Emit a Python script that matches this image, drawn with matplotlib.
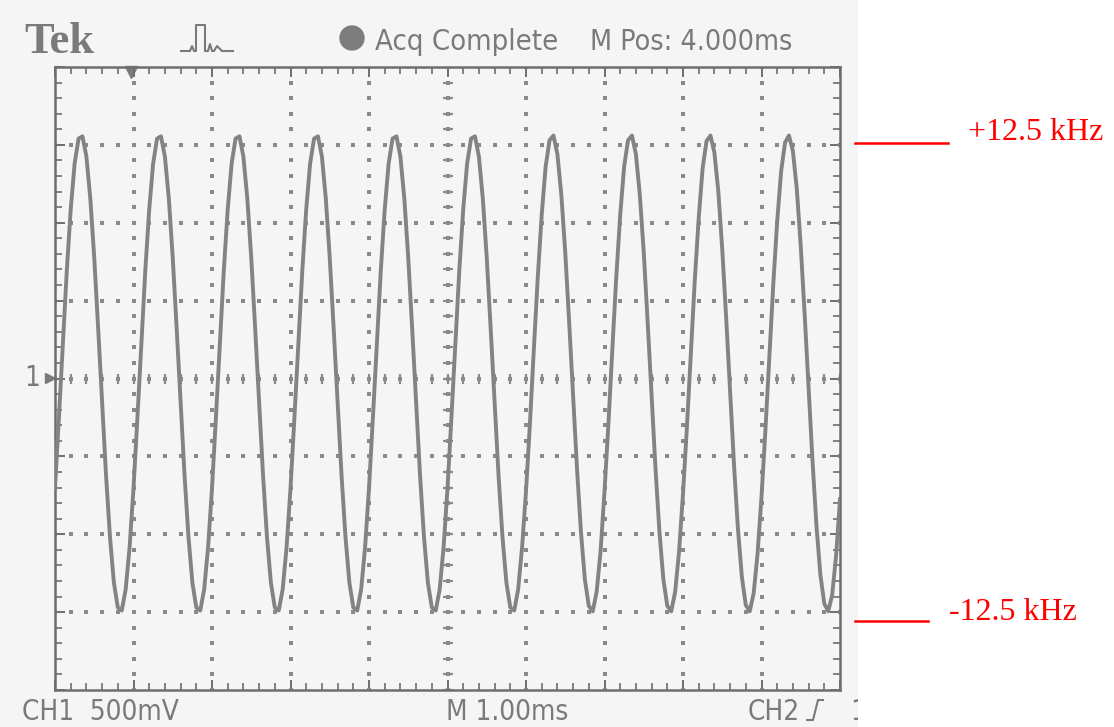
import numpy as np
import matplotlib
matplotlib.use("Agg")
import matplotlib.pyplot as plt
from matplotlib.patches import Circle

# trace: volts in divisions, one sample every 0.05 ms (0.05 div)
t_step = 0.05
trace = [
    -1.41, -0.50, 0.45, 1.38, 2.17, 2.76, 3.08, 3.11, 2.85, 2.31, 1.55, 0.64, -0.31, -1.24, -2.03, -2.62, -2.94, -2.98, -2.71, -2.17,
    -1.41, -0.50, 0.45, 1.38, 2.17, 2.76, 3.08, 3.11, 2.85, 2.31, 1.55, 0.64, -0.31, -1.24, -2.03, -2.62, -2.94, -2.98, -2.71, -2.17,
    -1.41, -0.50, 0.45, 1.38, 2.17, 2.76, 3.08, 3.11, 2.85, 2.31, 1.55, 0.64, -0.31, -1.24, -2.03, -2.62, -2.94, -2.98, -2.71, -2.17,
    -1.41, -0.50, 0.45, 1.38, 2.17, 2.76, 3.08, 3.11, 2.85, 2.31, 1.55, 0.64, -0.31, -1.24, -2.03, -2.62, -2.94, -2.98, -2.71, -2.17,
    -1.41, -0.50, 0.45, 1.38, 2.17, 2.76, 3.08, 3.11, 2.85, 2.31, 1.55, 0.64, -0.31, -1.24, -2.03, -2.62, -2.94, -2.98, -2.71, -2.17,
    -1.41, -0.50, 0.45, 1.38, 2.17, 2.76, 3.08, 3.11, 2.85, 2.31, 1.55, 0.64, -0.31, -1.24, -2.03, -2.62, -2.94, -2.98, -2.71, -2.17,
    -1.45, -0.58, 0.38, 1.30, 2.10, 2.72, 3.06, 3.12, 2.88, 2.36, 1.62, 0.72, -0.22, -1.16, -1.97, -2.58, -2.92, -2.99, -2.74, -2.22,
    -1.45, -0.58, 0.38, 1.30, 2.10, 2.72, 3.06, 3.12, 2.88, 2.36, 1.62, 0.72, -0.22, -1.16, -1.97, -2.58, -2.92, -2.99, -2.74, -2.22,
    -1.48, -0.62, 0.33, 1.26, 2.06, 2.70, 3.05, 3.12, 2.90, 2.40, 1.66, 0.78, -0.17, -1.11, -1.93, -2.55, -2.91, -2.99, -2.76, -2.25,
    -1.52, -0.66, 0.28, 1.21, 2.02, 2.66, 3.03, 3.12, 2.92, 2.43, 1.70, 0.82, -0.12, -1.06, -1.89, -2.52, -2.89, -2.99, -2.78, -2.28,
    -1.55,
]

header_left = "Tek"
status_text = "Acq Complete"
mpos_text = "M Pos: 4.000ms"
ch1_text = "CH1  500mV"
time_text = "M 1.00ms"
ch2_text = "CH2"
upper_label = "+12.5 kHz"
lower_label = "-12.5 kHz"

scope_grey = "#7a7a7a"
trace_grey = "#838383"
lcd = dict(family="DejaVu Sans", fontstretch="condensed", color=scope_grey, va="baseline")

fig = plt.figure(figsize=(11.14, 7.27), dpi=100)
fig.patch.set_facecolor("white")

# background of the scanned scope print, in pixel coordinates
bg = fig.add_axes([0, 0, 858 / 1114, 1])
bg.set_xlim(0, 858)
bg.set_ylim(727, 0)
bg.axis("off")
bg.add_patch(plt.Rectangle((0, 0), 858, 727, color="#f5f5f5", zorder=0))

bg.text(24, 53, header_left, family="Liberation Serif", fontweight="bold",
        fontsize=32, color=scope_grey, va="baseline")
# trigger pulse icon
bg.plot([181, 190, 192, 194, 196, 196, 205, 205, 208, 210, 212, 214, 217, 222, 226, 233],
        [51, 51, 46, 51, 51, 25, 25, 51, 51, 44, 51, 51, 46, 51, 51, 51],
        color=scope_grey, lw=1.5)
bg.add_patch(Circle((352, 38), 12, color="#7d7d7d"))
bg.text(375, 50, status_text, fontsize=21, **lcd)
bg.text(590, 50, mpos_text, fontsize=20.5, **lcd)

bg.text(22, 720, ch1_text, fontsize=20, **lcd)
bg.text(446, 720, time_text, fontsize=20, **lcd)
bg.text(748, 720, ch2_text, fontsize=20, **lcd)
bg.plot([807, 813, 818, 823], [720, 720, 700, 700], color=scope_grey, lw=1.5)
bg.text(850, 720, "1", fontsize=20, clip_on=True, **lcd)
# channel 1 ground marker and trigger position marker
bg.text(24, 386, "1", fontsize=20, **lcd)
bg.plot([50], [378], marker=">", ms=7, color=scope_grey)
bg.plot([131], [72], marker="v", ms=9, color=scope_grey)

# graticule: 10 x 8 divisions
ax = fig.add_axes([55 / 1114, 1 - 690 / 727, 785 / 1114, 623 / 727])
ax.set_facecolor("none")
ax.set_xlim(0, 10)
ax.set_ylim(-4, 4)
for side in ax.spines.values():
    side.set_color("#6e6e6e")
    side.set_linewidth(1.8)
ax.set_xticks(np.arange(0, 11, 1))
ax.set_yticks(np.arange(-4, 5, 1))
ax.set_xticks(np.arange(0, 10.01, 0.2), minor=True)
ax.set_yticks(np.arange(-4, 4.01, 0.2), minor=True)
ax.tick_params(which="both", direction="in", top=True, right=True,
               labelbottom=False, labelleft=False, color="#6e6e6e")
ax.tick_params(which="major", length=7, width=1.4)
ax.tick_params(which="minor", length=5, width=1.2)

fine = np.arange(0, 10.01, 0.2)
fine_y = np.arange(-4, 4.01, 0.2)
for gx in range(1, 10):
    ax.plot(np.full(len(fine_y), gx), fine_y, ls="none", marker="s", ms=2.2,
            color="#8a8a8a", mew=0)
for gy in range(-3, 4):
    ax.plot(fine, np.full(len(fine), gy), ls="none", marker="s", ms=2.2,
            color="#8a8a8a", mew=0)
ax.plot(np.full(len(fine_y), 5), fine_y, ls="none", marker="_", ms=7,
        mew=1.6, color="#8a8a8a")
ax.plot(fine, np.zeros(len(fine)), ls="none", marker="|", ms=7,
        mew=1.6, color="#8a8a8a")

t = np.arange(len(trace)) * t_step
ax.plot(t, trace, color=trace_grey, lw=2.8, zorder=5)

# red frequency deviation markers on the right
fig.add_artist(plt.Line2D([855 / 1114, 948 / 1114], [1 - 143 / 727] * 2,
                          color="red", lw=1.8))
fig.add_artist(plt.Line2D([855 / 1114, 928 / 1114], [1 - 621 / 727] * 2,
                          color="red", lw=1.8))
fig.text(968 / 1114, 1 - 133 / 727, upper_label, family="Liberation Serif",
         fontsize=23, color="red", va="center")
fig.text(949 / 1114, 1 - 612 / 727, lower_label, family="Liberation Serif",
         fontsize=23, color="red", va="center")

fig.savefig("out.png", dpi=100, facecolor="white")
